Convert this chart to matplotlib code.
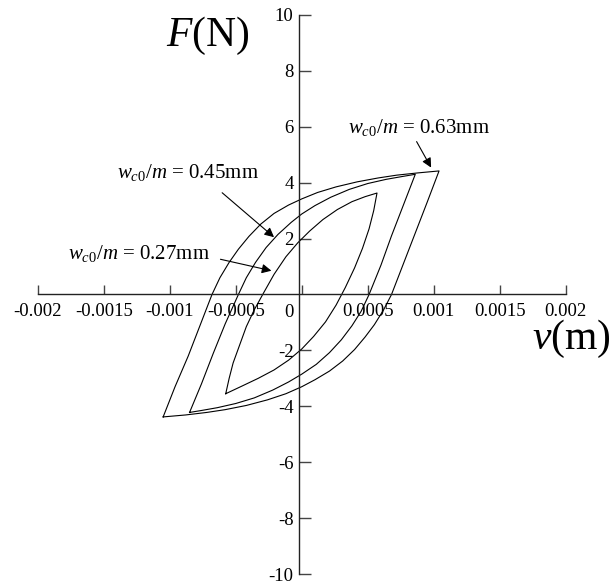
import numpy as np
import matplotlib
matplotlib.use("Agg")
import matplotlib.pyplot as plt

plt.rcParams['font.family'] = ['Liberation Serif', 'DejaVu Serif']
plt.rcParams['mathtext.fontset'] = 'custom'
plt.rcParams['mathtext.rm'] = 'Liberation Serif'
plt.rcParams['mathtext.it'] = 'Liberation Serif:italic'
plt.rcParams['axes.unicode_minus'] = False

# hysteresis loops, v in m, F in N
# each loop: upper branch from the lower-left tip, then lower branch back
outer_v = [-0.00105, -0.00096, -0.00086, -0.00077, -0.00068, -0.00062, -0.00055, -0.00048, -0.0004,
           -0.00031, -0.00021, -0.0001, 0.0, 0.00012, 0.00026, 0.00042, 0.00058, 0.00072, 0.00088, 0.00104,
           0.00095, 0.00086, 0.00077, 0.00068, 0.00062, 0.00055, 0.00048, 0.0004,
           0.00031, 0.00021, 0.0001, 0.0, -0.00012, -0.00026, -0.00042, -0.00058, -0.00072, -0.00088, -0.00105]
outer_F = [-4.38, -3.3, -2.2, -1.1, 0.0, 0.6, 1.15, 1.62, 2.08,
           2.52, 2.9, 3.2, 3.42, 3.65, 3.85, 4.03, 4.17, 4.27, 4.35, 4.42,
           3.3, 2.2, 1.1, 0.0, -0.55, -1.08, -1.52, -1.97,
           -2.38, -2.74, -3.05, -3.3, -3.55, -3.77, -3.97, -4.12, -4.22, -4.31, -4.38]

middle_v = [-0.00085, -0.00076, -0.00067, -0.00058, -0.00048, -0.00042, -0.00035, -0.00027, -0.00018,
            -0.00008, 0.0, 0.0001, 0.00022, 0.00036, 0.0005, 0.00064, 0.00076, 0.00086,
            0.00077, 0.00068, 0.0006, 0.00051, 0.00045, 0.00038, 0.0003, 0.00021,
            0.00011, 0.0, -0.0001, -0.00022, -0.00036, -0.0005, -0.00064, -0.00076, -0.00085]
middle_F = [-4.22, -3.2, -2.1, -1.05, 0.0, 0.6, 1.15, 1.68, 2.15,
            2.58, 2.88, 3.18, 3.48, 3.76, 3.97, 4.12, 4.22, 4.30,
            3.2, 2.1, 1.05, 0.0, -0.6, -1.12, -1.62, -2.08,
            -2.5, -2.85, -3.13, -3.42, -3.7, -3.9, -4.05, -4.15, -4.22]

inner_v = [-0.000576, -0.00055, -0.00052, -0.00047, -0.00042, -0.00036, -0.00029, -0.00021, -0.00012,
           -0.00003, 0.00006, 0.00016, 0.00027, 0.00038, 0.00048, 0.00057,
           0.000545, 0.00051, 0.00046, 0.0004, 0.00033, 0.00026, 0.00018, 0.00009,
           0.0, -0.0001, -0.00021, -0.00033, -0.00045, -0.000576]
inner_F = [-3.55, -3.0, -2.45, -1.8, -1.15, -0.55, 0.05, 0.72, 1.35,
           1.85, 2.27, 2.68, 3.04, 3.32, 3.5, 3.63,
           3.0, 2.35, 1.65, 0.95, 0.25, -0.38, -0.98, -1.5,
           -1.95, -2.35, -2.7, -3.0, -3.27, -3.55]

x_ticks = [-0.002, -0.0015, -0.001, -0.0005, 0, 0.0005, 0.001, 0.0015, 0.002]
x_labels = ['-0.002', '-0.0015', '-0.001', '-0.0005', '', '0.0005', '0.001', '0.0015', '0.002']
y_ticks = [-10, -8, -6, -4, -2, 2, 4, 6, 8, 10]
y_labels = ['-10', '-8', '-6', '-4', '-2', '2', '4', '6', '8', '10']

fig = plt.figure(figsize=(6.09, 5.85), dpi=100)
ax = fig.add_axes([0.062, 0.0188, 0.867, 0.9556])

for v, F in [(outer_v, outer_F), (middle_v, middle_F), (inner_v, inner_F)]:
    ax.plot(v, F, color='k', lw=0.8)

ax.set_xlim(-0.002, 0.002)
ax.set_ylim(-10, 10)
ax.spines['left'].set_position(('data', -0.00002))
ax.spines['bottom'].set_position(('data', 0))
ax.spines['top'].set_visible(False)
ax.spines['right'].set_visible(False)
for s in ['left', 'bottom']:
    ax.spines[s].set_linewidth(1.0)
    ax.spines[s].set_color('#222222')

ax.set_xticks(x_ticks)
ax.set_xticklabels(x_labels)
ax.set_yticks(y_ticks)
ax.set_yticklabels(y_labels)
ax.tick_params(axis='x', direction='in', length=6.5, width=1.0, color='#444444',
               labelsize=13.5, pad=6)
ax.tick_params(axis='y', direction='in', length=8.6, width=1.0, color='#444444',
               labelsize=13.5, pad=4)
ax.patch.set_visible(False)

# origin label sits left of the vertical axis
ax.annotate('0', xy=(0, 0), xytext=(-9, -7), textcoords='offset points',
            fontsize=13.5, ha='center', va='top')

ax.text(-0.000715, 9.25, r'$F$(N)', fontsize=30, ha='center', va='center')
ax.text(0.00204, -1.6, r'$v$(m)', fontsize=30, ha='center', va='center', clip_on=False)

arrow = dict(arrowstyle='-|>', color='k', lw=0.8, mutation_scale=14, shrinkA=0, shrinkB=0)
lab = r'$w_{\mathit{c0}}/m$ = '
ax.text(0.000886, 5.96, lab + '0.63mm', fontsize=15, ha='center', va='center')
ax.annotate('', xy=(0.00098, 4.54), xytext=(0.00087, 5.47), arrowprops=arrow)
ax.text(-0.000863, 4.38, lab + '0.45mm', fontsize=15, ha='center', va='center')
ax.annotate('', xy=(-0.00021, 2.05), xytext=(-0.000603, 3.64), arrowprops=arrow)
ax.text(-0.00123, 1.48, lab + '0.27mm', fontsize=15, ha='center', va='center')
ax.annotate('', xy=(-0.00023, 0.85), xytext=(-0.000616, 1.26), arrowprops=arrow)

fig.savefig('out.png', dpi=100)
